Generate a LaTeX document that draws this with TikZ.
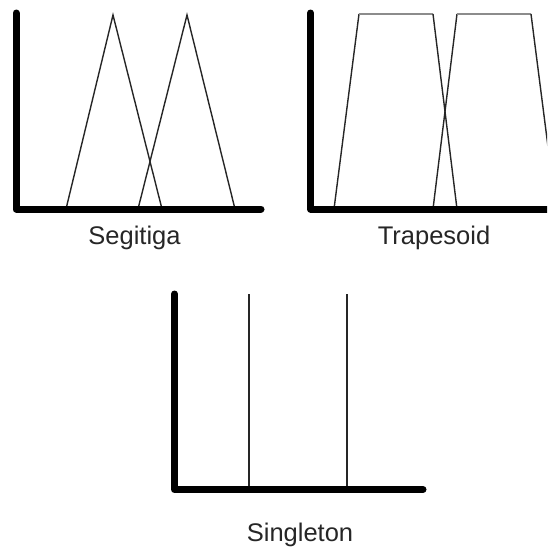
\documentclass[tikz,border=0pt]{standalone}
\usepackage{fontspec}
\setmainfont{Liberation Sans}
\begin{document}
\begin{tikzpicture}[x=1pt,y=-1pt,
  axis/.style={line width=7pt,black,line cap=round,line join=round},
  mf/.style={line width=1.4pt,black!85},
  mfgray/.style={line width=1.4pt,black!45},
  lbl/.style={anchor=base,inner sep=0pt,font=\fontsize{25.5}{30}\selectfont,text=black!85}]
\useasboundingbox (0,0) rectangle (547,549);
\begin{scope}
\clip (0,0) rectangle (547,549);
% Segitiga
\draw[mf] (66,209) -- (113,15) -- (162,209);
\draw[mf] (138,209) -- (187,15) -- (235,209);
\draw[axis] (16,13) -- (16,209) -- (261,209);
\node[lbl] (seg) at (134.5,244) {Segitiga};
% Trapesoid
\draw[mf] (334,209) -- (359,14);
\draw[mfgray] (359,14) -- (433,14);
\draw[mf] (433,14) -- (457,209);
\draw[mf] (433,209) -- (457,14);
\draw[mfgray] (457,14) -- (531,14);
\draw[mf] (531,14) -- (556,209);
\draw[axis] (310.5,13) -- (310.5,209) -- (560,209);
\node[lbl] (trap) at (434,244) {Trapesoid};
% Singleton
\draw[mf] (249,294) -- (249,489);
\draw[mf] (347,294) -- (347,489);
\draw[axis] (174.5,294) -- (174.5,489.5) -- (423,489.5);
\node[lbl] (sing) at (300,541) {Singleton};
\end{scope}
\end{tikzpicture}
\end{document}
